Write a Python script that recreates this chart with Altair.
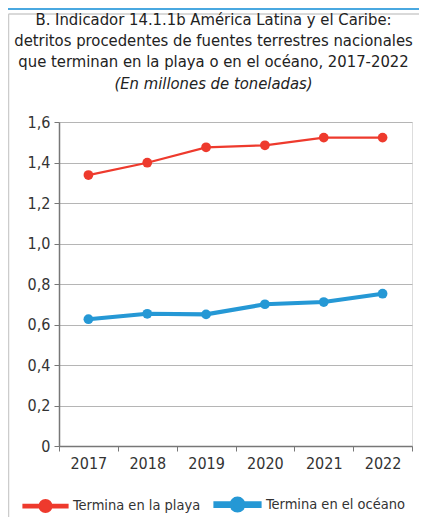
import altair as alt
import pandas as pd

years = ["2017", "2018", "2019", "2020", "2021", "2022"]
playa = [1.338, 1.399, 1.475, 1.485, 1.523, 1.523]
oceano = [0.626, 0.653, 0.650, 0.700, 0.711, 0.752]
series_names = ["Termina en la playa", "Termina en el océano"]
colors = ["#ee3a2d", "#2598d5"]
widths = [2.2, 4.2]
y_ticks = [0, 0.2, 0.4, 0.6, 0.8, 1.0, 1.2, 1.4, 1.6]

rows = []
for y, v in zip(years, playa):
    rows.append({"year": y, "value": v, "serie": series_names[0]})
for y, v in zip(years, oceano):
    rows.append({"year": y, "value": v, "serie": series_names[1]})
df = pd.DataFrame(rows)

FONT = "DejaVu Sans Condensed"

x_enc = alt.X("year:N", scale=alt.Scale(type="band", paddingInner=0, paddingOuter=0),
              axis=alt.Axis(title=None, labelAngle=0, tickBand="extent", grid=False,
                            labelFontSize=16, labelColor="#333333", labelPadding=4,
                            tickSize=5, tickColor="#777777", domainColor="#777777",
                            domainWidth=1.5, labelFont=FONT))
y_enc = alt.Y("value:Q", scale=alt.Scale(domain=[0, 1.6], nice=False),
              axis=alt.Axis(title=None, values=y_ticks, grid=True, gridColor="#b5b5b5",
                            gridWidth=1.2, tickSize=5, tickColor="#777777",
                            domainColor="#777777", domainWidth=1.5,
                            labelFontSize=16, labelColor="#333333", labelPadding=4,
                            labelFont=FONT,
                            labelExpr="datum.value == 0 ? '0' : replace(format(datum.value, '.1f'), '.', ',')"))
color_scale = alt.Scale(domain=series_names, range=colors)

sym = ("M-1,-0.055L-0.27,-0.055L-0.27,0.055L-1,0.055Z "
       "M0.27,-0.055L1,-0.055L1,0.055L0.27,0.055Z "
       "M0.27,0A0.27,0.27,0,1,1,-0.27,0A0.27,0.27,0,1,1,0.27,0Z")

legend = alt.Legend(title=None, orient="none", legendX=-37, legendY=358,
                    direction="horizontal", symbolType=sym, symbolSize=1936,
                    symbolStrokeWidth=0, symbolFillColor=None, labelFontSize=14.5, labelFont=FONT,
                    labelColor="#333333", labelOffset=4, columnPadding=6,
                    labelLimit=300)

lines = alt.Chart(df).mark_line().encode(
    x=x_enc, y=y_enc,
    color=alt.Color("serie:N", scale=color_scale, legend=legend),
    strokeWidth=alt.StrokeWidth("serie:N", scale=alt.Scale(domain=series_names, range=widths), legend=None),
    detail="serie:N",
)
points = alt.Chart(df).mark_point(filled=True, opacity=1, size=95).encode(
    x=x_enc, y=y_enc,
    color=alt.Color("serie:N", scale=color_scale, legend=legend),
)

deco = pd.DataFrame({"a": [0]})
frame_left = alt.Chart(deco).mark_rule(color="#cccccc", strokeWidth=1.5).encode(
    x=alt.value(-50.5), y=alt.value(-108), y2=alt.value(400))
frame_top = alt.Chart(deco).mark_rule(color="#cccccc", strokeWidth=1.5).encode(
    x=alt.value(-50.5), x2=alt.value(370), y=alt.value(-108))
blue_top = alt.Chart(deco).mark_rule(color="#4aa8e0", strokeWidth=2).encode(
    x=alt.value(-52), x2=alt.value(370), y=alt.value(-113))

chart = alt.layer(blue_top, frame_top, frame_left, lines, points).properties(
    width=353, height=324,
    autosize=alt.AutoSizeParams(type="none"),
    padding={"left": 51, "top": 114, "right": 7, "bottom": 71},
    title=alt.TitleParams(
        text=["B. Indicador 14.1.1b América Latina y el Caribe:",
              "detritos procedentes de fuentes terrestres nacionales",
              "que terminan en la playa o en el océano, 2017-2022"],
        subtitle=["(En millones de toneladas)"],
        anchor="middle", frame="group", dx=-22, dy=84, offset=0,
        font=FONT, fontSize=16.5, fontWeight="normal", color="#222222", lineHeight=21,
        subtitleFont=FONT, subtitleFontSize=16.5, subtitleFontStyle="italic",
        subtitleColor="#222222", subtitleLineHeight=21, subtitlePadding=5),
).configure_view(stroke=None).configure(background="white")

chart.save("out.html", embed_options={"renderer": "svg", "actions": False})
